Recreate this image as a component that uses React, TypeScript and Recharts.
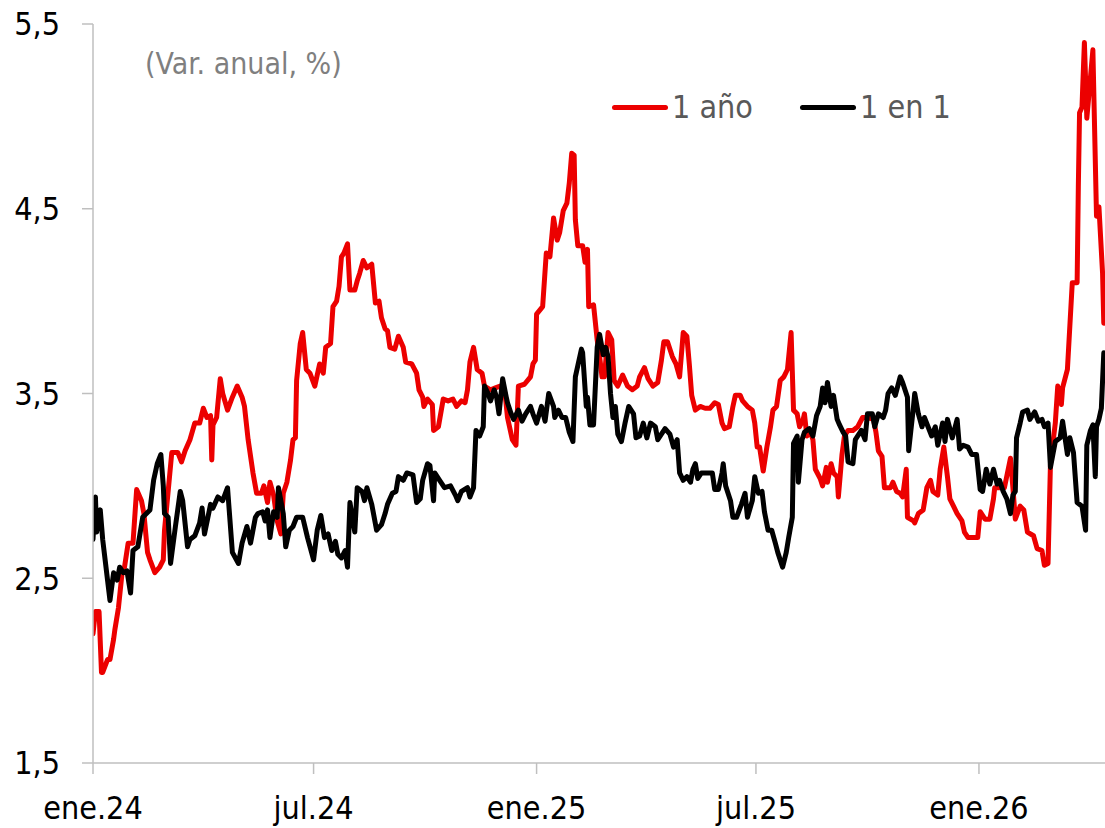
import { LineChart, Line, XAxis, YAxis } from 'recharts';

// (día desde 1-ene-2024, var. anual %)
const unAnio: [number, number][] = [
  [0, 2.2], [2, 2.32], [5, 2.32], [7, 1.99], [8, 1.99], [12, 2.06], [14, 2.06], [17, 2.17], [18, 2.22], [21, 2.34],
  [24, 2.53], [26, 2.56], [29, 2.69], [33, 2.69], [36, 2.98], [40, 2.92], [42, 2.85], [45, 2.64], [47, 2.6], [51, 2.53],
  [55, 2.56], [58, 2.6], [59, 2.76], [65, 3.18], [70, 3.18], [73, 3.13], [76, 3.19], [80, 3.25], [84, 3.34], [88, 3.34],
  [91, 3.42], [94, 3.37], [97, 3.38], [98, 3.14], [99, 3.33], [102, 3.37], [105, 3.58], [107, 3.5], [111, 3.41], [115, 3.48],
  [119, 3.54], [123, 3.48], [125, 3.43], [128, 3.25], [132, 3.07], [135, 2.96], [139, 2.96], [141, 3.0], [144, 2.91], [146, 3.02],
  [149, 2.95], [152, 2.81], [155, 2.74], [157, 2.96], [160, 3.02], [163, 3.14], [165, 3.25], [167, 3.26], [168, 3.57], [171, 3.77],
  [173, 3.83], [176, 3.63], [179, 3.61], [183, 3.54], [187, 3.66], [190, 3.61], [192, 3.75], [196, 3.77], [198, 3.97], [201, 4.0],
  [203, 4.08], [205, 4.24], [207, 4.26], [210, 4.31], [212, 4.06], [216, 4.06], [218, 4.11], [220, 4.15], [223, 4.22], [226, 4.18],
  [230, 4.2], [233, 3.99], [236, 4.0], [238, 3.91], [241, 3.85], [243, 3.84], [245, 3.75], [249, 3.74], [252, 3.81], [256, 3.75],
  [258, 3.67], [263, 3.66], [267, 3.61], [269, 3.52], [272, 3.48], [273, 3.43], [276, 3.47], [280, 3.44], [281, 3.3], [285, 3.32],
  [289, 3.47], [293, 3.46], [297, 3.47], [300, 3.43], [304, 3.46], [307, 3.45], [309, 3.52], [311, 3.67], [314, 3.75], [317, 3.63],
  [321, 3.61], [323, 3.54], [328, 3.52], [332, 3.53], [336, 3.54], [340, 3.5], [342, 3.37], [346, 3.25], [349, 3.22], [351, 3.54],
  [356, 3.55], [361, 3.59], [363, 3.66], [365, 3.68], [366, 3.93], [371, 3.97], [374, 4.26], [377, 4.24], [380, 4.45], [383, 4.33],
  [385, 4.37], [388, 4.49], [391, 4.53], [393, 4.64], [395, 4.8], [397, 4.79], [398, 4.44], [400, 4.3], [404, 4.3], [406, 4.21],
  [408, 4.28], [409, 3.97], [413, 3.98], [416, 3.79], [418, 3.7], [420, 3.59], [422, 3.59], [425, 3.83], [428, 3.79], [430, 3.57],
  [433, 3.54], [437, 3.6], [441, 3.54], [445, 3.52], [449, 3.54], [451, 3.59], [455, 3.64], [458, 3.58], [462, 3.54], [466, 3.56],
  [469, 3.68], [471, 3.78], [474, 3.78], [478, 3.7], [481, 3.66], [484, 3.59], [487, 3.83], [490, 3.81], [492, 3.66], [494, 3.49],
  [497, 3.41], [501, 3.43], [505, 3.42], [509, 3.42], [513, 3.45], [516, 3.44], [519, 3.34], [521, 3.31], [525, 3.32], [528, 3.43],
  [530, 3.49], [534, 3.49], [536, 3.46], [540, 3.43], [544, 3.41], [546, 3.34], [548, 3.21], [550, 3.21], [553, 3.08], [556, 3.21],
  [559, 3.32], [561, 3.41], [564, 3.43], [567, 3.57], [570, 3.59], [573, 3.63], [576, 3.83], [578, 3.41], [581, 3.39], [583, 3.32],
  [586, 3.36], [587, 3.39], [589, 3.27], [592, 3.29], [594, 3.25], [596, 3.09], [600, 3.04], [602, 3.0], [605, 3.1], [606, 3.02],
  [609, 3.12], [611, 3.07], [614, 3.05], [615, 2.94], [618, 3.17], [620, 3.27], [623, 3.3], [627, 3.3], [631, 3.32], [635, 3.37],
  [639, 3.37], [644, 3.36], [646, 3.29], [648, 3.19], [651, 3.16], [653, 2.99], [658, 2.99], [660, 3.02], [663, 2.97], [666, 2.96],
  [668, 2.94], [671, 3.09], [672, 2.83], [677, 2.81], [678, 2.8], [681, 2.85], [685, 2.87], [688, 2.99], [691, 3.03], [693, 2.97],
  [697, 2.95], [699, 3.09], [702, 3.21], [705, 3.05], [707, 2.93], [710, 2.89], [713, 2.85], [717, 2.81], [719, 2.75], [722, 2.72],
  [730, 2.72], [732, 2.86], [736, 2.82], [740, 2.82], [743, 2.93], [744, 2.99], [752, 2.99], [757, 3.15], [759, 2.99], [761, 2.82],
  [765, 2.89], [768, 2.87], [771, 2.75], [776, 2.73], [779, 2.66], [783, 2.65], [785, 2.57], [788, 2.58], [790, 3.12], [794, 3.34],
  [796, 3.54], [799, 3.44], [800, 3.53], [804, 3.63], [808, 4.1], [812, 4.1], [813, 4.62], [814, 5.02], [816, 5.05], [818, 5.4],
  [820, 4.99], [823, 5.21], [825, 5.36], [828, 4.46], [830, 4.51], [833, 4.15], [834, 3.88],
];

const unoEnUno: [number, number][] = [
  [0, 2.71], [2, 2.94], [3, 2.75], [6, 2.87], [8, 2.71], [12, 2.49], [14, 2.38], [17, 2.53], [20, 2.49], [22, 2.56],
  [25, 2.53], [28, 2.54], [31, 2.42], [33, 2.65], [37, 2.67], [41, 2.83], [47, 2.87], [50, 3.03], [53, 3.12], [56, 3.17],
  [58, 3.0], [59, 2.85], [62, 2.83], [64, 2.58], [68, 2.78], [72, 2.97], [74, 2.92], [78, 2.67], [80, 2.71], [84, 2.73],
  [88, 2.8], [90, 2.88], [92, 2.74], [97, 2.9], [99, 2.88], [103, 2.94], [107, 2.92], [111, 2.99], [115, 2.64], [120, 2.58],
  [123, 2.69], [127, 2.78], [130, 2.69], [134, 2.83], [136, 2.85], [140, 2.86], [142, 2.81], [144, 2.87], [146, 2.72], [149, 2.86],
  [152, 2.83], [153, 2.99], [157, 2.85], [159, 2.67], [162, 2.76], [165, 2.78], [168, 2.83], [173, 2.83], [177, 2.72], [182, 2.6],
  [185, 2.76], [188, 2.84], [191, 2.72], [194, 2.74], [197, 2.65], [200, 2.7], [202, 2.63], [205, 2.61], [208, 2.65], [210, 2.56],
  [212, 2.91], [216, 2.75], [218, 2.99], [222, 2.97], [224, 2.92], [226, 2.99], [230, 2.9], [234, 2.76], [238, 2.79], [241, 2.85],
  [243, 2.9], [247, 2.96], [250, 2.97], [252, 3.05], [256, 3.03], [259, 3.07], [264, 3.06], [267, 2.91], [270, 2.93], [272, 3.03],
  [276, 3.12], [278, 3.11], [281, 2.92], [282, 3.07], [286, 3.03], [290, 2.99], [295, 3.0], [299, 2.95], [301, 2.92], [304, 2.97],
  [309, 2.99], [311, 2.94], [314, 2.99], [316, 3.3], [319, 3.27], [322, 3.32], [323, 3.54], [326, 3.5], [328, 3.46], [331, 3.52],
  [333, 3.48], [335, 3.39], [338, 3.58], [341, 3.48], [342, 3.45], [345, 3.39], [347, 3.36], [351, 3.41], [354, 3.35], [357, 3.39],
  [361, 3.43], [363, 3.39], [366, 3.34], [370, 3.43], [373, 3.35], [376, 3.5], [380, 3.43], [381, 3.37], [384, 3.41], [387, 3.37],
  [390, 3.37], [393, 3.29], [396, 3.24], [398, 3.59], [400, 3.65], [403, 3.74], [404, 3.72], [407, 3.43], [408, 3.48], [410, 3.33],
  [413, 3.33], [416, 3.75], [418, 3.82], [421, 3.71], [423, 3.75], [425, 3.7], [427, 3.5], [429, 3.37], [431, 3.43], [433, 3.28],
  [436, 3.24], [439, 3.34], [442, 3.43], [446, 3.39], [448, 3.26], [451, 3.27], [454, 3.34], [457, 3.26], [460, 3.34], [464, 3.32],
  [466, 3.25], [469, 3.28], [472, 3.31], [476, 3.28], [479, 3.21], [482, 3.25], [484, 3.07], [487, 3.03], [490, 3.05], [493, 3.02],
  [495, 3.09], [497, 3.12], [499, 3.04], [502, 3.07], [507, 3.07], [511, 3.07], [513, 2.98], [516, 2.98], [519, 3.07], [520, 3.12],
  [522, 3.0], [526, 2.92], [528, 2.83], [531, 2.83], [535, 2.9], [538, 2.96], [540, 2.83], [544, 2.92], [546, 3.05], [549, 2.96],
  [552, 2.97], [554, 2.86], [557, 2.76], [560, 2.76], [563, 2.69], [565, 2.64], [569, 2.56], [572, 2.64], [574, 2.72], [577, 2.83],
  [578, 3.23], [581, 3.27], [582, 3.02], [585, 3.25], [587, 3.29], [591, 3.31], [594, 3.27], [597, 3.38], [600, 3.43], [602, 3.53],
  [604, 3.45], [606, 3.56], [609, 3.43], [611, 3.49], [614, 3.36], [616, 3.33], [619, 3.29], [621, 3.27], [623, 3.13], [627, 3.12],
  [629, 3.25], [631, 3.27], [634, 3.3], [637, 3.25], [639, 3.39], [643, 3.39], [645, 3.32], [648, 3.39], [652, 3.37], [654, 3.41],
  [656, 3.5], [659, 3.53], [662, 3.49], [666, 3.59], [668, 3.56], [672, 3.48], [673, 3.19], [677, 3.43], [678, 3.5], [681, 3.39],
  [684, 3.32], [686, 3.37], [689, 3.32], [692, 3.27], [695, 3.32], [697, 3.22], [701, 3.34], [703, 3.24], [705, 3.36], [709, 3.26],
  [713, 3.36], [715, 3.2], [718, 3.22], [722, 3.21], [725, 3.17], [729, 3.17], [732, 2.98], [734, 2.97], [737, 3.09], [740, 3.01],
  [743, 3.09], [746, 3.01], [748, 3.03], [751, 2.97], [754, 2.93], [757, 2.85], [759, 2.95], [761, 2.97], [762, 3.26], [765, 3.34],
  [767, 3.4], [771, 3.41], [773, 3.36], [777, 3.4], [780, 3.35], [783, 3.36], [785, 3.32], [788, 3.34], [790, 3.1], [794, 3.24],
  [798, 3.26], [800, 3.35], [804, 3.17], [806, 3.26], [809, 3.18], [812, 2.91], [816, 2.89], [819, 2.76], [820, 3.22], [823, 3.3],
  [825, 3.33], [827, 3.05], [828, 3.32], [830, 3.36], [832, 3.42], [834, 3.72],
];

const tickDias = [0, 182, 366, 547, 731];
const tickTexto = ['ene.24', 'jul.24', 'ene.25', 'jul.25', 'ene.26'];
const yTicks = [1.5, 2.5, 3.5, 4.5, 5.5];

const series = [
  { nombre: '1 año', color: '#EC0000', datos: unAnio, left: 612 },
  { nombre: '1 en 1', color: '#000000', datos: unoEnUno, left: 800 },
];

const FONT = "'Liberation Sans Narrow', 'DejaVu Sans Condensed', 'Noto Sans', sans-serif";
const AXIS = '#BFBFBF';

export default function App() {
  return (
    <div style={{ position: 'absolute', left: 0, top: 0, width: 1105, height: 828, background: '#fff', overflow: 'hidden' }}>
      <LineChart width={1105} height={828} margin={{ top: 24, right: 0, bottom: 0, left: 0 }}>
        <XAxis
          type="number"
          dataKey="d"
          domain={[0, 835]}
          ticks={tickDias}
          tickFormatter={(v: number) => tickTexto[tickDias.indexOf(v)] ?? ''}
          height={65}
          stroke={AXIS}
          strokeWidth={1.5}
          tickSize={11}
          tickMargin={22}
          tick={{ fill: '#000', fontSize: 32, fontFamily: FONT }}
          allowDataOverflow
        />
        <YAxis
          type="number"
          domain={[1.5, 5.5]}
          ticks={yTicks}
          tickFormatter={(v: number) => v.toFixed(1).replace('.', ',')}
          width={93}
          stroke={AXIS}
          strokeWidth={1.5}
          tickSize={11}
          tickMargin={22}
          tick={{ fill: '#000', fontSize: 32, fontFamily: FONT }}
          allowDataOverflow
        />
        {series.map(s => (
          <Line
            key={s.nombre}
            name={s.nombre}
            data={s.datos.map(([d, v]) => ({ d, v }))}
            dataKey="v"
            type="linear"
            stroke={s.color}
            strokeWidth={5}
            strokeLinejoin="round"
            strokeLinecap="round"
            dot={false}
            activeDot={false}
            isAnimationActive={false}
          />
        ))}
      </LineChart>
      <div style={{ position: 'absolute', left: 145, top: 45, fontFamily: FONT, fontSize: 30, lineHeight: '38px', color: '#7F7F7F', whiteSpace: 'nowrap' }}>
        (Var. anual, %)
      </div>
      {series.map(s => (
        <div key={s.nombre} style={{ position: 'absolute', left: s.left, top: 88, height: 38, display: 'flex', alignItems: 'center', fontFamily: FONT, fontSize: 32, color: '#595959', whiteSpace: 'nowrap' }}>
          <span style={{ display: 'inline-block', width: 56, height: 5, borderRadius: 3, background: s.color, marginRight: 4 }} />
          <span>{s.nombre}</span>
        </div>
      ))}
    </div>
  );
}
